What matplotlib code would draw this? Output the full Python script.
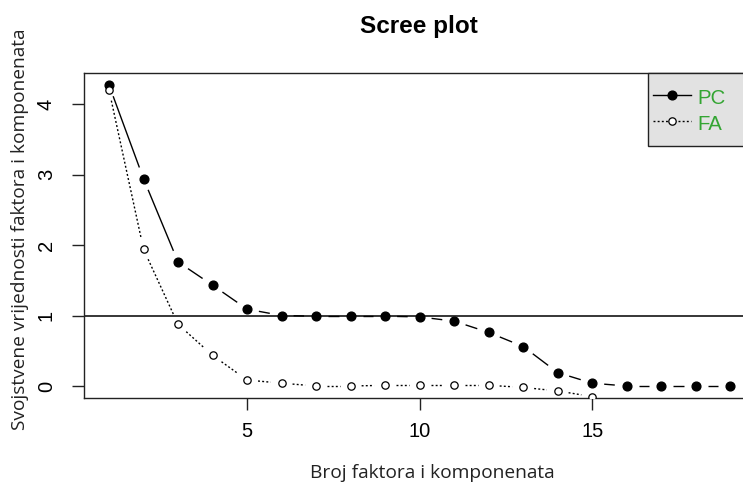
import matplotlib
matplotlib.use("Agg")
import numpy as np
import matplotlib.pyplot as plt
from matplotlib.lines import Line2D
from matplotlib.patches import Rectangle

# ---- data ----
pc_x = list(range(1, 20))
pc_vals = [4.27, 2.94, 1.76, 1.43, 1.09, 1.00, 0.99, 0.99, 0.99, 0.98,
           0.92, 0.76, 0.56, 0.19, 0.04, 0.00, 0.00, 0.00, 0.00]
fa_x = list(range(1, 16))
fa_vals = [4.20, 1.94, 0.875, 0.435, 0.085, 0.04, 0.00, 0.00, 0.01, 0.01,
           0.01, 0.01, -0.02, -0.07, -0.15]
x_ticks = [5, 10, 15]
y_ticks = [0, 1, 2, 3, 4]
series_names = ["PC", "FA"]
title = "Scree plot"
xlabel = "Broj faktora i komponenata"
ylabel = "Svojstvene vrijednosti faktora i komponenata"

W, H = 743, 484
fig = plt.figure(figsize=(W / 100, H / 100), dpi=100)
L, R, T, B = 84.3, 755.0, 72.7, 398.0
ax = fig.add_axes([L / W, 1 - B / H, (R - L) / W, (B - T) / H])
ax.set_xlim(0.284, 19.716)
ax.set_ylim(-0.17, 4.444)

tick_font = "Liberation Sans"
lab_font = "Open Sans"
FA_LS = (0, (1.4, 1.6))


def gapped_line(ax, xs, ys, gap_px, **kw):
    """Connect points like R's type='b': segments stop short of each point."""
    pts = ax.transData.transform(np.column_stack([xs, ys]))
    inv = ax.transData.inverted()
    for p0, p1 in zip(pts[:-1], pts[1:]):
        d = p1 - p0
        n = np.hypot(*d)
        if n <= 2 * gap_px:
            continue
        u = d / n
        seg = inv.transform(np.vstack([p0 + u * gap_px, p1 - u * gap_px]))
        ax.plot(seg[:, 0], seg[:, 1], solid_capstyle="butt", **kw)


gapped_line(ax, pc_x, pc_vals, 12.0, color="black", lw=1.0, ls="-", zorder=1)
gapped_line(ax, fa_x, fa_vals, 11.0, color="black", lw=1.0, ls=FA_LS, zorder=1)
ax.axhline(1, color="black", lw=1.1, zorder=2.2)
ax.plot(pc_x, pc_vals, ls="none", marker="o", ms=6.3, mfc="black", mec="black", zorder=3)
ax.plot(fa_x, fa_vals, ls="none", marker="o", ms=5.3, mfc="white", mec="black", mew=0.9, zorder=3)

for s in ax.spines.values():
    s.set_linewidth(1.0)
    s.set_color("#222222")

ax.set_xticks(x_ticks)
ax.set_yticks(y_ticks)
ax.tick_params(axis="both", length=8.4, width=1.0, color="#222222", labelsize=14.5)
ax.tick_params(axis="x", pad=9)
ax.tick_params(axis="y", pad=12, labelrotation=90)
for lbl in ax.get_xticklabels() + ax.get_yticklabels():
    lbl.set_fontfamily(tick_font)
for lbl in ax.get_yticklabels():
    lbl.set_va("center")

# legend box (R legend at topright, partly beyond the image edge)
fig.patches.append(Rectangle((648 / W, 1 - 146 / H), 120 / W, 73 / H,
                             transform=fig.transFigure, facecolor="#e2e2e2",
                             edgecolor="#222222", lw=1.0, zorder=4))
handles = [
    Line2D([], [], color="black", lw=1.0, marker="o", ms=6.3, mfc="black", mec="black"),
    Line2D([], [], color="black", lw=1.0, ls=FA_LS, marker="o", ms=5.3,
           mfc="white", mec="black", mew=0.9),
]
leg = fig.legend(handles, series_names, loc="upper left",
                 bbox_to_anchor=(653 / W, 1 - 86 / H), bbox_transform=fig.transFigure,
                 frameon=False, prop={"family": tick_font, "size": 14.7},
                 handlelength=1.86, handletextpad=0.3, borderpad=0,
                 handleheight=1.3, labelspacing=0.2, borderaxespad=0)
leg.set_zorder(5)
for t in leg.get_texts():
    t.set_color("#33a532")

fig.text(419 / W, 1 - 27 / H, title, ha="center", va="center",
         fontsize=17.5, fontweight="bold", family=tick_font)
fig.text(432 / W, 1 - 473 / H, xlabel, ha="center", va="center",
         fontsize=13.8, family=lab_font, color="#222222")
fig.text(20 / W, 1 - 229 / H, ylabel, ha="center", va="center", rotation=90,
         fontsize=13.8, family=lab_font, color="#222222")

fig.savefig("out.png", dpi=100)
